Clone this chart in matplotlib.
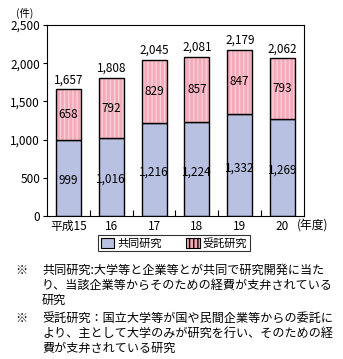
import matplotlib
matplotlib.use("Agg")
import matplotlib.pyplot as plt
import numpy as np

plt.rcParams['font.family'] = ['Noto Sans CJK JP', 'DejaVu Sans']

years = ["平成15", "16", "17", "18", "19", "20"]
joint = [999, 1016, 1216, 1224, 1332, 1269]      # 共同研究
contract = [658, 792, 829, 857, 847, 793]        # 受託研究
totals = [1657, 1808, 2045, 2081, 2179, 2062]

blue = "#b9c1e3"
pink = "#f4aab9"
stripe = "#f9cfd8"

fig = plt.figure(figsize=(3.43, 3.59), dpi=100)
ax = fig.add_axes([47 / 343, 1 - 216 / 359, 257 / 343, 191 / 359])

x = np.arange(len(years))
w = 0.58
ax.bar(x, joint, w, color=blue, edgecolor="black", linewidth=1.0, zorder=2)
# striped pink segment, outline drawn on top
ax.bar(x, contract, w, bottom=joint, color=pink, edgecolor=stripe,
       hatch="||||", linewidth=0, zorder=2)
ax.bar(x, contract, w, bottom=joint, fill=False, edgecolor="black",
       linewidth=1.0, zorder=3)

for i in range(len(years)):
    ax.text(x[i], joint[i] * 0.47, f"{joint[i]:,}", ha="center", va="center",
            fontsize=8.5, zorder=4)
    ax.text(x[i], joint[i] + contract[i] / 2, f"{contract[i]:,}", ha="center",
            va="center", fontsize=8.5, zorder=4)
    ax.text(x[i], totals[i] + 40, f"{totals[i]:,}", ha="center", va="bottom",
            fontsize=8.5, zorder=4)

ax.set_xlim(-0.5, len(years) - 0.5)
ax.set_ylim(0, 2500)
ax.set_yticks(range(0, 2501, 500))
ax.set_yticklabels([f"{v:,}" for v in range(0, 2501, 500)], fontsize=8.5)
ax.set_xticks(x)
ax.set_xticklabels(years, fontsize=8.5)
ax.get_xticklabels()[-1].set_x(x[-1] - 0.12)
ax.tick_params(axis="x", length=0, pad=3)
ax.set_xticks(np.arange(0.5, len(years) - 1, 1), minor=True)
ax.tick_params(axis="x", which="minor", direction="in", length=4, width=0.8)
ax.tick_params(axis="y", length=3, width=0.8, pad=2)
for s in ax.spines.values():
    s.set_linewidth(0.8)

fig.text(16 / 343, 1 - 13 / 359, "(件)", fontsize=7.5, ha="left", va="center")
fig.text(297 / 343, 1 - 225 / 359, "(年度)", fontsize=8.5, ha="left", va="center")

handles = [plt.Rectangle((0, 0), 1, 1, facecolor=blue, edgecolor="black", linewidth=0.8),
           plt.Rectangle((0, 0), 1, 1, facecolor=pink, edgecolor="black",
                         hatch="||||", linewidth=0.8)]
leg = fig.legend(handles, ["共同研究", "受託研究"], loc="center",
                 bbox_to_anchor=(174 / 343, 1 - 243 / 359), ncol=2, fontsize=8,
                 frameon=True, fancybox=False, edgecolor="black",
                 handlelength=1.2, handleheight=1.0, handletextpad=0.3,
                 columnspacing=2.2, borderpad=0.25)
leg.get_frame().set_linewidth(0.8)

notes = [
    ("※", "共同研究:大学等と企業等とが共同で研究開発に当た"),
    ("", "り、当該企業等からそのための経費が支弁されている"),
    ("", "研究"),
    ("※", "受託研究：国立大学等が国や民間企業等からの委託に"),
    ("", "より、主として大学のみが研究を行い、そのための経"),
    ("", "費が支弁されている研究"),
]
ys = [270, 285, 300, 318, 333, 348]
for (mark, line), yy in zip(notes, ys):
    if mark:
        fig.text(15 / 343, 1 - yy / 359, mark, fontsize=8.7, ha="left", va="center")
    fig.text(42 / 343, 1 - yy / 359, line, fontsize=8.7, ha="left", va="center")

fig.savefig("out.png", dpi=100)
